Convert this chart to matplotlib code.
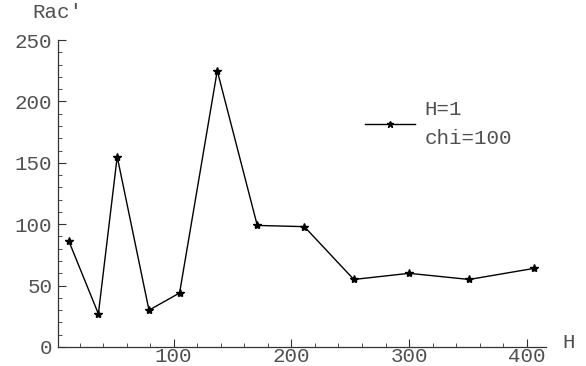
import matplotlib
matplotlib.use("Agg")
from matplotlib import pyplot as plt
from matplotlib.ticker import MultipleLocator

# data
h = [11, 36, 52, 79, 105, 137, 171, 211, 253, 300, 351, 406]
rac = [86, 27, 155, 30, 44, 225, 99, 98, 55, 60, 55, 64]
xticks = [100, 200, 300, 400]
yticks = [0, 50, 100, 150, 200, 250]

plt.rcParams['font.family'] = ['Liberation Mono', 'DejaVu Sans']
txt = '#505050'
fs = 15

fig = plt.figure(figsize=(5.86, 3.66), dpi=100)
ax = fig.add_axes([58 / 586, 1 - 347 / 366, (546 - 58) / 586, (347 - 40) / 366])

line, = ax.plot(h, rac, color='black', lw=1, marker='*', ms=6,
                markerfacecolor='black', markeredgecolor='black')

ax.set_xlim(1.7, 416.3)
ax.set_ylim(0, 250)
ax.set_xticks(xticks)
ax.set_yticks(yticks)
ax.xaxis.set_minor_locator(MultipleLocator(20))
ax.yaxis.set_minor_locator(MultipleLocator(10))
ax.tick_params(which='major', direction='in', length=6, width=0.8,
               colors='#333333', labelcolor=txt, labelsize=fs)
ax.tick_params(axis='x', which='major', pad=0)
ax.tick_params(axis='y', which='major', pad=4)
ax.tick_params(which='minor', direction='in', length=3, width=0.6,
               colors='#333333')
for s in ['top', 'right']:
    ax.spines[s].set_visible(False)
for s in ['left', 'bottom']:
    ax.spines[s].set_color('#333333')
    ax.spines[s].set_linewidth(0.9)
ax.patch.set_alpha(0)

fig.text(32 / 586, 1 - 13 / 366, "Rac'", color=txt, fontsize=fs,
         ha='left', va='center')
fig.text(562 / 586, 1 - 343 / 366, "H", color=txt, fontsize=fs,
         ha='left', va='center')

leg = ax.legend([line], ["H=1\nchi=100"], loc='center left',
                bbox_to_anchor=(288 / 488, 1 - 84 / 307), frameon=False,
                fontsize=fs, handlelength=2.4, handletextpad=0.45,
                labelcolor=txt, markerscale=0.8)
for t in leg.get_texts():
    t.set_linespacing(1.7)

fig.savefig('out.png', dpi=100)
